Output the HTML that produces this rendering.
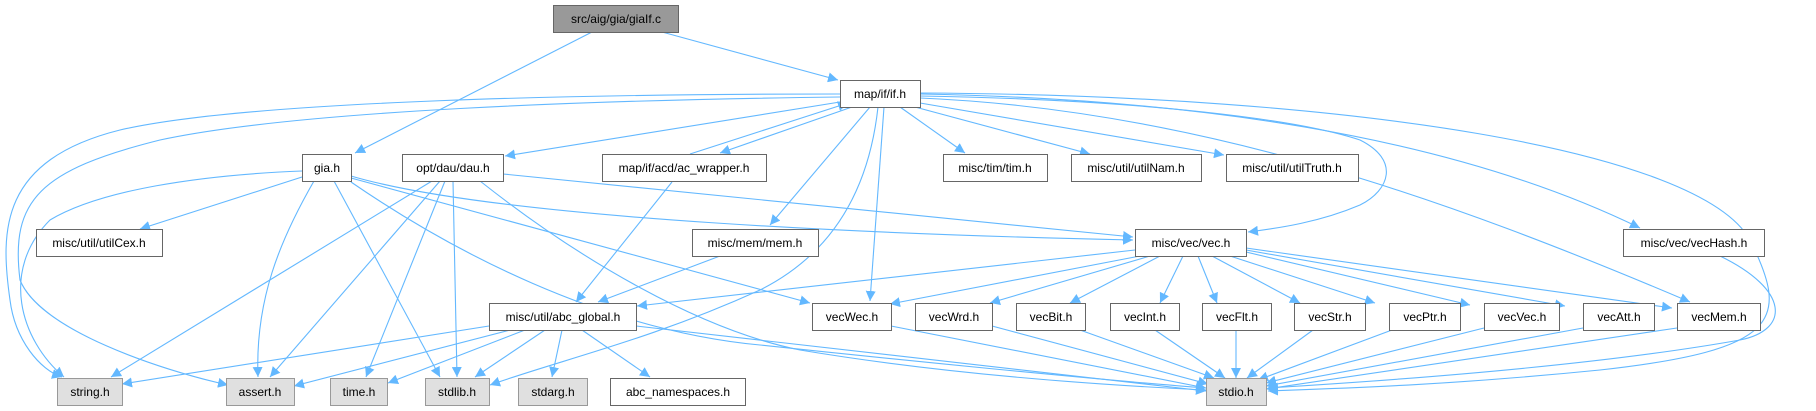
<!DOCTYPE html>
<html><head><meta charset="utf-8"><style>
html,body{margin:0;padding:0;background:#fff;}
svg{display:block;}
text{font-family:"Liberation Sans",Arial,sans-serif;font-size:12px;fill:#000;}
.n{fill:#fff;stroke:#666;stroke-width:1;}
.g{fill:#e0e0e0;stroke:#999;stroke-width:1;}
.e{fill:none;stroke:#63b8ff;stroke-width:1.1;marker-end:url(#a);}
</style></head><body>
<svg width="1816" height="411" viewBox="0 0 1816 411" xmlns="http://www.w3.org/2000/svg">
<defs><marker id="a" markerUnits="userSpaceOnUse" markerWidth="11" markerHeight="10" refX="10" refY="5" orient="auto"><path d="M0,0 L10,5 L0,10 z" fill="#63b8ff"/></marker></defs>
<g>
<path class="e" d="M592,32 L355,153"/>
<path class="e" d="M662,32 L838,80"/>
<path class="e" d="M840,94 C600,94 250,100 120,130 C0,160 0,230 10,300 C15,340 40,370 62,377"/>
<path class="e" d="M840,97 C600,100 300,110 160,140 C40,170 10,200 20,280 C40,330 160,370 228,385"/>
<path class="e" d="M840,102 L505,156"/>
<path class="e" d="M852,107 L720,153"/>
<path class="e" d="M870,107 L770,225"/>
<path class="e" d="M878,107 C870,180 840,250 760,290 C650,340 560,360 490,385"/>
<path class="e" d="M884,107 L870,301"/>
<path class="e" d="M900,107 L965,153"/>
<path class="e" d="M915,107 L1090,154"/>
<path class="e" d="M920,103 L1224,155"/>
<path class="e" d="M920,96 C1150,100 1300,120 1360,140 C1400,160 1390,190 1360,205 C1320,222 1280,228 1248,232"/>
<path class="e" d="M920,98 C1200,110 1450,200 1690,302"/>
<path class="e" d="M920,94 C1250,100 1480,150 1640,228"/>
<path class="e" d="M920,93 C1350,95 1700,150 1750,240 C1790,320 1780,350 1600,370 C1450,385 1350,388 1268,391"/>
<path class="e" d="M690,154 L848,103"/>
<path class="e" d="M672,182 L576,302"/>
<path class="e" d="M302,171 C200,175 100,190 50,220 C0,270 20,340 64,377"/>
<path class="e" d="M302,177 L140,229"/>
<path class="e" d="M314,181 C280,240 255,300 258,377"/>
<path class="e" d="M334,181 L440,377"/>
<path class="e" d="M351,182 C450,250 600,330 760,345 C900,360 1100,380 1206,388"/>
<path class="e" d="M351,178 L810,303"/>
<path class="e" d="M351,176 C500,220 900,235 1133,240"/>
<path class="e" d="M432,181 L111,377"/>
<path class="e" d="M440,181 L270,377"/>
<path class="e" d="M445,181 L366,377"/>
<path class="e" d="M453,181 L457,377"/>
<path class="e" d="M480,181 C580,260 700,330 800,350 C950,375 1100,385 1206,390"/>
<path class="e" d="M503,174 L1133,237"/>
<path class="e" d="M720,256 L598,302"/>
<path class="e" d="M1135,250 L637,306"/>
<path class="e" d="M1140,256 L890,304"/>
<path class="e" d="M1150,256 L990,303"/>
<path class="e" d="M1160,256 L1070,303"/>
<path class="e" d="M1183,256 L1160,303"/>
<path class="e" d="M1198,256 L1217,303"/>
<path class="e" d="M1212,256 L1300,303"/>
<path class="e" d="M1230,256 L1375,303"/>
<path class="e" d="M1246,252 L1470,305"/>
<path class="e" d="M1246,250 L1565,306"/>
<path class="e" d="M1246,248 L1672,308"/>
<path class="e" d="M489,326 L122,384"/>
<path class="e" d="M510,330 L294,386"/>
<path class="e" d="M525,330 L388,383"/>
<path class="e" d="M545,330 L475,377"/>
<path class="e" d="M562,330 L552,377"/>
<path class="e" d="M582,330 L650,377"/>
<path class="e" d="M636,326 L1206,391"/>
<path class="e" d="M891,326 L1206,388"/>
<path class="e" d="M992,326 L1208,384"/>
<path class="e" d="M1080,330 L1214,378"/>
<path class="e" d="M1155,330 L1225,378"/>
<path class="e" d="M1236,330 L1236,378"/>
<path class="e" d="M1313,330 L1247,378"/>
<path class="e" d="M1392,330 L1258,380"/>
<path class="e" d="M1484,328 L1266,383"/>
<path class="e" d="M1583,328 L1266,386"/>
<path class="e" d="M1677,328 L1266,389"/>
<path class="e" d="M1720,256 C1790,290 1790,330 1740,340 C1600,365 1400,380 1268,388"/>
</g>
<g>
<rect x="553.5" y="5.5" width="125" height="27" fill="#999" stroke="#666"/><text x="616" y="23" text-anchor="middle">src/aig/gia/giaIf.c</text>
<rect class="n" x="840.5" y="80.5" width="80" height="27"/><text x="880" y="98" text-anchor="middle">map/if/if.h</text>
<rect class="n" x="302.5" y="154.5" width="49" height="27"/><text x="327" y="172" text-anchor="middle">gia.h</text>
<rect class="n" x="402.5" y="154.5" width="101" height="27"/><text x="453" y="172" text-anchor="middle">opt/dau/dau.h</text>
<rect class="n" x="602.5" y="154.5" width="164" height="27"/><text x="684" y="172" text-anchor="middle">map/if/acd/ac_wrapper.h</text>
<rect class="n" x="943.5" y="154.5" width="104" height="27"/><text x="995" y="172" text-anchor="middle">misc/tim/tim.h</text>
<rect class="n" x="1071.5" y="154.5" width="130" height="27"/><text x="1136" y="172" text-anchor="middle">misc/util/utilNam.h</text>
<rect class="n" x="1226.5" y="154.5" width="132" height="27"/><text x="1292" y="172" text-anchor="middle">misc/util/utilTruth.h</text>
<rect class="n" x="36.5" y="229.5" width="126" height="27"/><text x="99" y="247" text-anchor="middle">misc/util/utilCex.h</text>
<rect class="n" x="692.5" y="229.5" width="126" height="27"/><text x="755" y="247" text-anchor="middle">misc/mem/mem.h</text>
<rect class="n" x="1135.5" y="229.5" width="111" height="27"/><text x="1191" y="247" text-anchor="middle">misc/vec/vec.h</text>
<rect class="n" x="1623.5" y="229.5" width="141" height="27"/><text x="1694" y="247" text-anchor="middle">misc/vec/vecHash.h</text>
<rect class="n" x="489.5" y="303.5" width="147" height="27"/><text x="563" y="321" text-anchor="middle">misc/util/abc_global.h</text>
<rect class="n" x="812.5" y="303.5" width="79" height="27"/><text x="852" y="321" text-anchor="middle">vecWec.h</text>
<rect class="n" x="915.5" y="303.5" width="77" height="27"/><text x="954" y="321" text-anchor="middle">vecWrd.h</text>
<rect class="n" x="1016.5" y="303.5" width="69" height="27"/><text x="1051" y="321" text-anchor="middle">vecBit.h</text>
<rect class="n" x="1110.5" y="303.5" width="69" height="27"/><text x="1145" y="321" text-anchor="middle">vecInt.h</text>
<rect class="n" x="1202.5" y="303.5" width="69" height="27"/><text x="1237" y="321" text-anchor="middle">vecFlt.h</text>
<rect class="n" x="1294.5" y="303.5" width="71" height="27"/><text x="1330" y="321" text-anchor="middle">vecStr.h</text>
<rect class="n" x="1389.5" y="303.5" width="71" height="27"/><text x="1425" y="321" text-anchor="middle">vecPtr.h</text>
<rect class="n" x="1484.5" y="303.5" width="75" height="27"/><text x="1522" y="321" text-anchor="middle">vecVec.h</text>
<rect class="n" x="1583.5" y="303.5" width="71" height="27"/><text x="1619" y="321" text-anchor="middle">vecAtt.h</text>
<rect class="n" x="1677.5" y="303.5" width="83" height="27"/><text x="1719" y="321" text-anchor="middle">vecMem.h</text>
<rect class="g" x="57.5" y="378.5" width="65" height="27"/><text x="90" y="396" text-anchor="middle">string.h</text>
<rect class="g" x="226.5" y="378.5" width="68" height="27"/><text x="260" y="396" text-anchor="middle">assert.h</text>
<rect class="g" x="330.5" y="378.5" width="57" height="27"/><text x="359" y="396" text-anchor="middle">time.h</text>
<rect class="g" x="425.5" y="378.5" width="64" height="27"/><text x="457" y="396" text-anchor="middle">stdlib.h</text>
<rect class="g" x="518.5" y="378.5" width="69" height="27"/><text x="553" y="396" text-anchor="middle">stdarg.h</text>
<rect class="n" x="610.5" y="378.5" width="135" height="27"/><text x="678" y="396" text-anchor="middle">abc_namespaces.h</text>
<rect class="g" x="1206.5" y="378.5" width="60" height="27"/><text x="1236" y="396" text-anchor="middle">stdio.h</text>
</g>
</svg>
</body></html>
